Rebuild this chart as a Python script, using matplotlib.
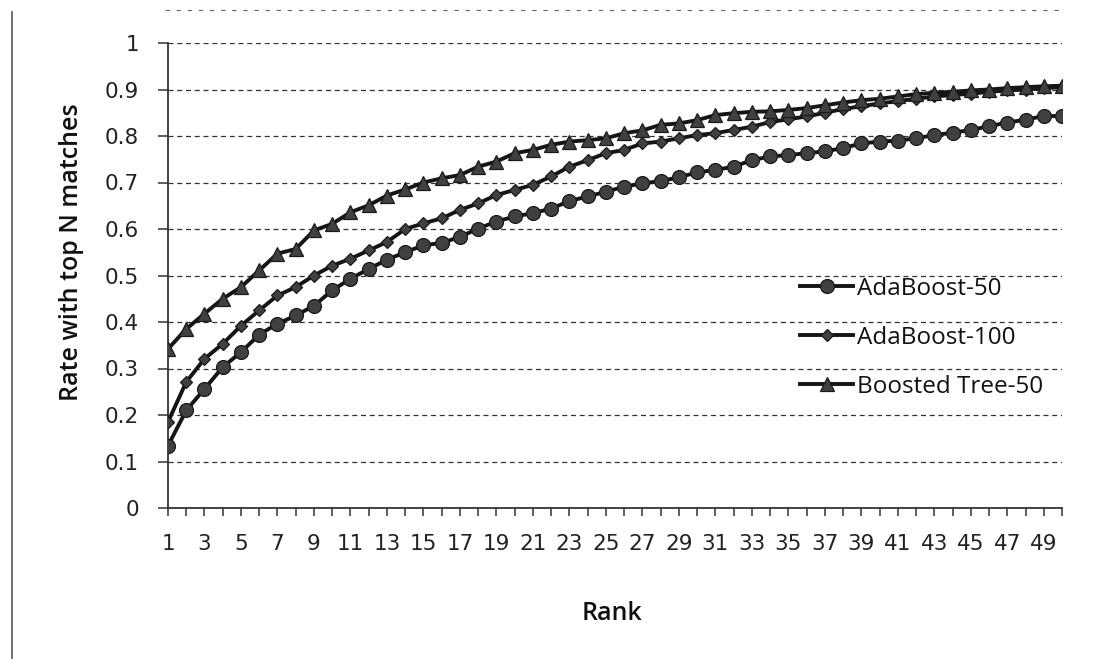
import matplotlib
matplotlib.use("Agg")
import matplotlib.pyplot as plt
from matplotlib.lines import Line2D
import numpy as np

ranks = list(range(1, 51))
tick_labels = [str(r) if r % 2 == 1 else "" for r in ranks]

adaboost_50 = [0.134, 0.210, 0.256, 0.303, 0.335, 0.373, 0.396, 0.414, 0.435, 0.468,
               0.493, 0.514, 0.534, 0.550, 0.565, 0.570, 0.583, 0.601, 0.616, 0.627,
               0.634, 0.644, 0.660, 0.670, 0.680, 0.691, 0.698, 0.703, 0.711, 0.722,
               0.727, 0.734, 0.748, 0.756, 0.759, 0.763, 0.767, 0.774, 0.784, 0.788,
               0.790, 0.795, 0.802, 0.807, 0.813, 0.821, 0.829, 0.835, 0.843, 0.843]
adaboost_100 = [0.185, 0.271, 0.321, 0.353, 0.392, 0.425, 0.457, 0.475, 0.500, 0.521,
                0.536, 0.554, 0.572, 0.600, 0.612, 0.623, 0.641, 0.655, 0.673, 0.684,
                0.695, 0.713, 0.734, 0.748, 0.763, 0.770, 0.784, 0.788, 0.795, 0.802,
                0.806, 0.813, 0.820, 0.830, 0.836, 0.842, 0.850, 0.858, 0.864, 0.870,
                0.875, 0.880, 0.885, 0.888, 0.891, 0.895, 0.898, 0.900, 0.903, 0.905]
boosted_tree_50 = [0.342, 0.385, 0.418, 0.450, 0.475, 0.511, 0.547, 0.557, 0.597, 0.611,
                   0.636, 0.651, 0.672, 0.685, 0.700, 0.709, 0.716, 0.734, 0.745, 0.763,
                   0.770, 0.781, 0.788, 0.791, 0.795, 0.806, 0.812, 0.824, 0.827, 0.834,
                   0.845, 0.849, 0.852, 0.853, 0.856, 0.860, 0.866, 0.872, 0.877, 0.880,
                   0.885, 0.890, 0.893, 0.895, 0.898, 0.900, 0.903, 0.905, 0.907, 0.908]

series_names = ["AdaBoost-50", "AdaBoost-100", "Boosted Tree-50"]
y_ticks = [0, 0.1, 0.2, 0.3, 0.4, 0.5, 0.6, 0.7, 0.8, 0.9, 1]
y_tick_labels = ["0", "0.1", "0.2", "0.3", "0.4", "0.5", "0.6", "0.7", "0.8", "0.9", "1"]

W, H = 1093, 659
fig = plt.figure(figsize=(W / 100, H / 100), dpi=100)
fig.patch.set_facecolor("white")
ax = fig.add_axes([168 / W, 1 - 508 / H, (1062 - 168) / W, (508 - 43) / H])

ax.set_xlim(1, 50)
ax.set_ylim(0, 1)

# gridlines
for yv in y_ticks[1:]:
    ax.axhline(yv, color="#333333", lw=0.9, ls=(0, (4, 3)), zorder=1)

line_col = "#151515"
mk_col = "#404040"
ax.plot(ranks, adaboost_50, color=line_col, lw=2.8, marker="o", ms=10,
        mfc=mk_col, mec="#1a1a1a", mew=0.9, label=series_names[0], zorder=3)
ax.plot(ranks, adaboost_100, color=line_col, lw=2.8, marker="D", ms=6.5,
        mfc=mk_col, mec="#1a1a1a", mew=0.9, label=series_names[1], zorder=3)
ax.plot(ranks, boosted_tree_50, color=line_col, lw=2.8, marker="^", ms=10.5,
        mfc=mk_col, mec="#1a1a1a", mew=0.9, label=series_names[2], zorder=3)

for s in ["top", "right"]:
    ax.spines[s].set_visible(False)
ax.spines["left"].set_color("#333333")
ax.spines["bottom"].set_color("#333333")
ax.spines["left"].set_linewidth(1.3)
ax.spines["bottom"].set_linewidth(1.3)

ax.set_xticks(ranks)
ax.set_xticklabels(tick_labels)
ax.set_yticks(y_ticks)
ax.set_yticklabels(y_tick_labels)
ax.tick_params(axis="x", direction="out", length=6, width=1.1, color="#333333",
               pad=13, labelsize=15.5)
ax.tick_params(axis="y", direction="out", length=7, width=1.1, color="#333333",
               pad=14, labelsize=15.5)
for lbl in ax.get_xticklabels() + ax.get_yticklabels():
    lbl.set_family("DejaVu Sans")
    lbl.set_color("#222222")

ax.set_ylabel("Rate with top N matches", fontsize=18, family="Open Sans",
              fontweight="semibold", color="#111111")
ax.yaxis.set_label_coords((72 - 168) / (1062 - 168), (508 - 252) / (508 - 43))
ax.set_xlabel("Rank", fontsize=18, family="Open Sans", fontweight="semibold",
              color="#111111")
ax.xaxis.set_label_coords((612 - 168) / (1062 - 168), -(613 - 508) / (508 - 43))
ax.xaxis.label.set_va("center")
ax.yaxis.label.set_va("center")

leg = ax.legend(loc="upper left", bbox_to_anchor=((800 - 168) / (1062 - 168), (508 - 277) / (508 - 43)),
                frameon=False, prop={"family": "Open Sans", "size": 17.5},
                handlelength=2.2, handletextpad=0.15, labelspacing=1.02, borderpad=0,
                borderaxespad=0)
for t in leg.get_texts():
    t.set_color("#111111")

# decorative scan border elements
fig.add_artist(Line2D([12 / W, 12 / W], [0, 1 - 12 / H], color="#555555", lw=1.2))
fig.add_artist(Line2D([165 / W, 1062 / W], [1 - 10 / H, 1 - 10 / H], color="#666666",
                      lw=0.8, ls=(0, (4, 6))))

fig.savefig("out.png", dpi=100, facecolor="white")
